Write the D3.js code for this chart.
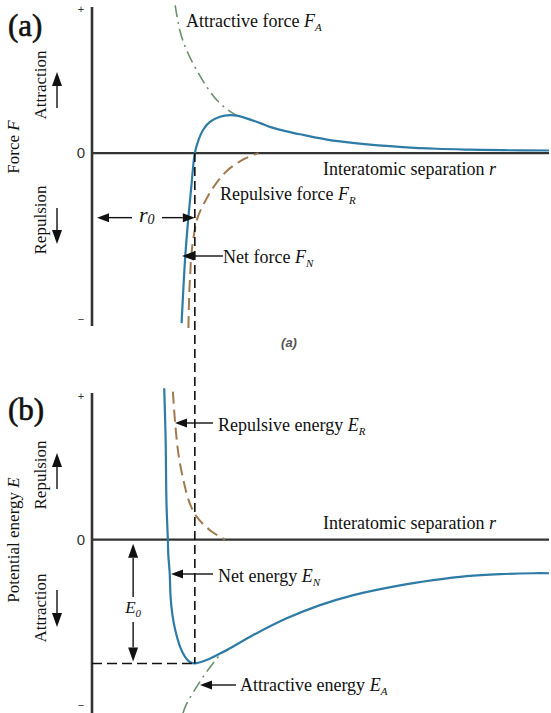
<!DOCTYPE html>
<html>
<head>
<meta charset="utf-8">
<script src="https://cdn.jsdelivr.net/npm/d3@7"></script>
<style>
  body { margin: 0; background: #fff; }
  text { font-family: "Liberation Serif", "Times New Roman", serif; fill: #111; }
</style>
</head>
<body>
<div id="chart"></div>
<script>
// curves, [r, value]
const netForce = [[1.96,-5.90],[1.99,-4.99],[2.04,-3.60],[2.11,-2.21],[2.18,-1.05],[2.25,0],[2.33,0.45],[2.43,0.80],[2.58,1.08],[2.80,1.26],[3.02,1.32],[3.20,1.29],[3.68,1.04],[3.89,0.91],[4.40,0.70],[4.62,0.63],[5.14,0.47],[5.80,0.34],[6.80,0.21],[7.55,0.15],[8.27,0.12],[8.99,0.10],[10.0,0.09]];
const attractiveForce = [[1.82,5.13],[1.93,4.21],[2.07,3.57],[2.29,2.88],[2.51,2.30],[2.73,1.84],[2.98,1.49],[3.17,1.30]];
const repulsiveForce = [[2.11,-6.07],[2.13,-4.79],[2.15,-4.20],[2.17,-3.61],[2.22,-2.94],[2.31,-2.24],[2.44,-1.78],[2.65,-1.20],[2.95,-0.62],[3.31,-0.22],[3.64,0]];

const netEnergy = [[1.58,5.27],[1.61,3.58],[1.63,1.26],[1.66,0],[1.67,-0.54],[1.70,-1.16],[1.72,-2.00],[1.76,-2.62],[1.82,-3.14],[1.93,-3.74],[2.04,-4.09],[2.14,-4.26],[2.25,-4.31],[2.51,-4.19],[2.95,-3.84],[3.53,-3.32],[4.26,-2.74],[4.99,-2.28],[5.72,-1.93],[6.74,-1.59],[7.47,-1.41],[8.20,-1.27],[8.93,-1.20],[9.66,-1.17],[10.0,-1.17]];
const repulsiveEnergy = [[1.77,5.15],[1.82,4.05],[1.89,3.00],[2.00,2.07],[2.14,1.26],[2.29,0.80],[2.58,0.33],[2.91,0]];
const attractiveEnergy = [[1.99,-6.04],[2.07,-5.72],[2.36,-4.95],[2.65,-4.30],[2.84,-3.96],[2.98,-3.84]];

const r0 = 2.25;
const E0 = -4.31;
const tickLabels = ["+", "0", "\u2212"];

const Chart = {
	initialize: function() {
		var width = 551, height = 713;

		const x = d3.scaleLinear().domain([0, 10]).range([92, 549]);
		const yF = d3.scaleLinear().domain([-6, 5]).range([326, 9]);
		const yE = d3.scaleLinear().domain([-6, 5]).range([712, 396]);

		const blue = "#2e7ca6", brown = "#a07a4e", green = "#6b8f6b";
		const curve = d3.curveCatmullRom.alpha(0.5);

		let svg = d3.select("#chart")
			.append("svg")
			.attr("width", width)
			.attr("height", height);

		// arrow with filled head at (x2, y2)
		function arrow(g, x1, y1, x2, y2, len, hw) {
			len = len || 12; hw = hw || 4.5;
			const a = Math.atan2(y2 - y1, x2 - x1);
			const bx = x2 - len * Math.cos(a), by = y2 - len * Math.sin(a);
			g.append("line")
				.attr("x1", x1).attr("y1", y1).attr("x2", bx).attr("y2", by)
				.attr("stroke", "#111").attr("stroke-width", 1.4);
			g.append("path")
				.attr("d", `M${x2},${y2}L${bx + hw * Math.sin(a)},${by - hw * Math.cos(a)}L${bx - hw * Math.sin(a)},${by + hw * Math.cos(a)}Z`)
				.attr("fill", "#111");
		}

		function richLabel(g, px, py, plain, sym, sub, size) {
			const t = g.append("text").attr("x", px).attr("y", py).style("font-size", size + "px");
			t.append("tspan").text(plain);
			t.append("tspan").style("font-style", "italic").text(sym);
			if (sub) t.append("tspan").style("font-style", "italic")
				.style("font-size", Math.round(size * 0.62) + "px").attr("dy", 4).text(sub);
			return t;
		}

		function rotLabel(g, px, py, plain, sym, size) {
			const t = g.append("text")
				.attr("transform", `translate(${px},${py}) rotate(-90)`)
				.attr("text-anchor", "middle")
				.style("font-size", size + "px");
			t.append("tspan").text(plain);
			if (sym) t.append("tspan").style("font-style", "italic").text(sym);
		}

		function panel(y, top, bottom, yAxisTop, yAxisBottom) {
			const g = svg.append("g");
			// zero line and vertical axis
			g.append("line")
				.attr("x1", x(0)).attr("x2", x(10)).attr("y1", y(0)).attr("y2", y(0))
				.attr("stroke", "#333").attr("stroke-width", 2.4);
			g.append("line")
				.attr("x1", x(0)).attr("x2", x(0)).attr("y1", yAxisTop).attr("y2", yAxisBottom)
				.attr("stroke", "#333").attr("stroke-width", 2.6);
			// + 0 - marks
			const ticks = [top, 0, bottom];
			const off = [4, 5, -3];
			g.selectAll("text.tick")
				.data(tickLabels)
				.enter().append("text")
				.attr("class", "tick")
				.attr("x", x(0) - 11)
				.attr("y", (d, i) => y(ticks[i]) + off[i])
				.attr("text-anchor", "middle")
				.style("font-family", "Liberation Sans, Arial, sans-serif")
				.style("font-size", (d, i) => i === 1 ? "15px" : "11px")
				.style("fill", "#333")
				.text(d => d);
			return g;
		}

		// ---------- (a) force ----------
		const ga = panel(yF, 5, -6, 7, 326);
		const lineF = d3.line().x(d => x(d[0])).y(d => yF(d[1])).curve(curve);

		ga.append("path").datum(attractiveForce).attr("d", lineF)
			.attr("fill", "none").attr("stroke", green).attr("stroke-width", 1.6)
			.attr("stroke-dasharray", "12,5,2,5");
		ga.append("path").datum(repulsiveForce).attr("d", lineF)
			.attr("fill", "none").attr("stroke", brown).attr("stroke-width", 2)
			.attr("stroke-dasharray", "12,6");

		// ---------- (b) energy ----------
		const gb = panel(yE, 5, -6, 393, 713);
		const lineE = d3.line().x(d => x(d[0])).y(d => yE(d[1])).curve(curve);

		gb.append("path").datum(attractiveEnergy).attr("d", lineE)
			.attr("fill", "none").attr("stroke", green).attr("stroke-width", 1.6)
			.attr("stroke-dasharray", "12,5,2,5");
		gb.append("path").datum(repulsiveEnergy).attr("d", lineE)
			.attr("fill", "none").attr("stroke", brown).attr("stroke-width", 2)
			.attr("stroke-dasharray", "12,6");

		// dashed guides at r0 and E0
		svg.append("line")
			.attr("x1", x(r0)).attr("x2", x(r0)).attr("y1", yF(0)).attr("y2", yE(E0))
			.attr("stroke", "#111").attr("stroke-width", 1.6).attr("stroke-dasharray", "9,5");
		svg.append("line")
			.attr("x1", x(0)).attr("x2", x(r0)).attr("y1", yE(E0)).attr("y2", yE(E0))
			.attr("stroke", "#111").attr("stroke-width", 1.6).attr("stroke-dasharray", "10,5");

		// net curves on top
		ga.append("path").datum(netForce).attr("d", lineF)
			.attr("fill", "none").attr("stroke", blue).attr("stroke-width", 2.2);
		gb.append("path").datum(netEnergy).attr("d", lineE)
			.attr("fill", "none").attr("stroke", blue).attr("stroke-width", 2.2);

		// ---------- labels (a) ----------
		svg.append("text").attr("x", 8).attr("y", 36)
			.style("font-size", "31px").style("stroke", "#111").style("stroke-width", 0.6)
			.text("(a)");
		rotLabel(svg, 46, 85, "Attraction", null, 17);
		rotLabel(svg, 19, 147, "Force ", "F", 17);
		rotLabel(svg, 46, 220, "Repulsion", null, 17);
		arrow(svg, 57, 108, 57, 72, 14, 5);
		arrow(svg, 57, 208, 57, 244, 14, 5);

		richLabel(svg, 186, 27, "Attractive force ", "F", "A", 18);
		richLabel(svg, 323, 175, "Interatomic separation ", "r", null, 18);
		richLabel(svg, 220, 200, "Repulsive force ", "F", "R", 18);
		richLabel(svg, 223, 263, "Net force ", "F", "N", 18);
		arrow(svg, 223, 256, 182, 256);

		// r0 span
		const yr = yF(-2.24);
		arrow(svg, 132, yr, x(0) + 5, yr);
		arrow(svg, 162, yr, x(r0), yr);
		richLabel(svg, 139, yr + 4, "", "r", "0", 22).select("tspan:last-child").attr("dy", 2);

		svg.append("text").attr("x", 289).attr("y", 347).attr("text-anchor", "middle")
			.style("font-family", "Liberation Sans, Arial, sans-serif")
			.style("font-style", "italic").style("font-weight", "bold")
			.style("font-size", "13px").style("fill", "#555").text("(a)");

		// ---------- labels (b) ----------
		svg.append("text").attr("x", 8).attr("y", 420)
			.style("font-size", "31px").style("stroke", "#111").style("stroke-width", 0.6)
			.text("(b)");
		rotLabel(svg, 46, 475, "Repulsion", null, 17);
		rotLabel(svg, 19, 540, "Potential energy ", "E", 17);
		rotLabel(svg, 46, 608, "Attraction", null, 17);
		arrow(svg, 57, 489, 57, 453, 14, 5);
		arrow(svg, 57, 590, 57, 627, 14, 5);

		richLabel(svg, 218, 431, "Repulsive energy ", "E", "R", 18);
		arrow(svg, 213, 423, 175, 423);
		richLabel(svg, 323, 529, "Interatomic separation ", "r", null, 18);
		richLabel(svg, 218, 582, "Net energy ", "E", "N", 18);
		arrow(svg, 213, 574, 171, 574);
		richLabel(svg, 240, 691, "Attractive energy ", "E", "A", 18);
		arrow(svg, 236, 685, 200, 685);

		// E0 span
		const xe = x(0.9);
		arrow(svg, xe, 597, xe, yE(0) + 4, 14, 5);
		arrow(svg, xe, 622, xe, yE(E0) - 2, 14, 5);
		richLabel(svg, xe - 8, 613, "", "E", "0", 17);
	}
}

Chart.initialize();
</script>
</body>
</html>
